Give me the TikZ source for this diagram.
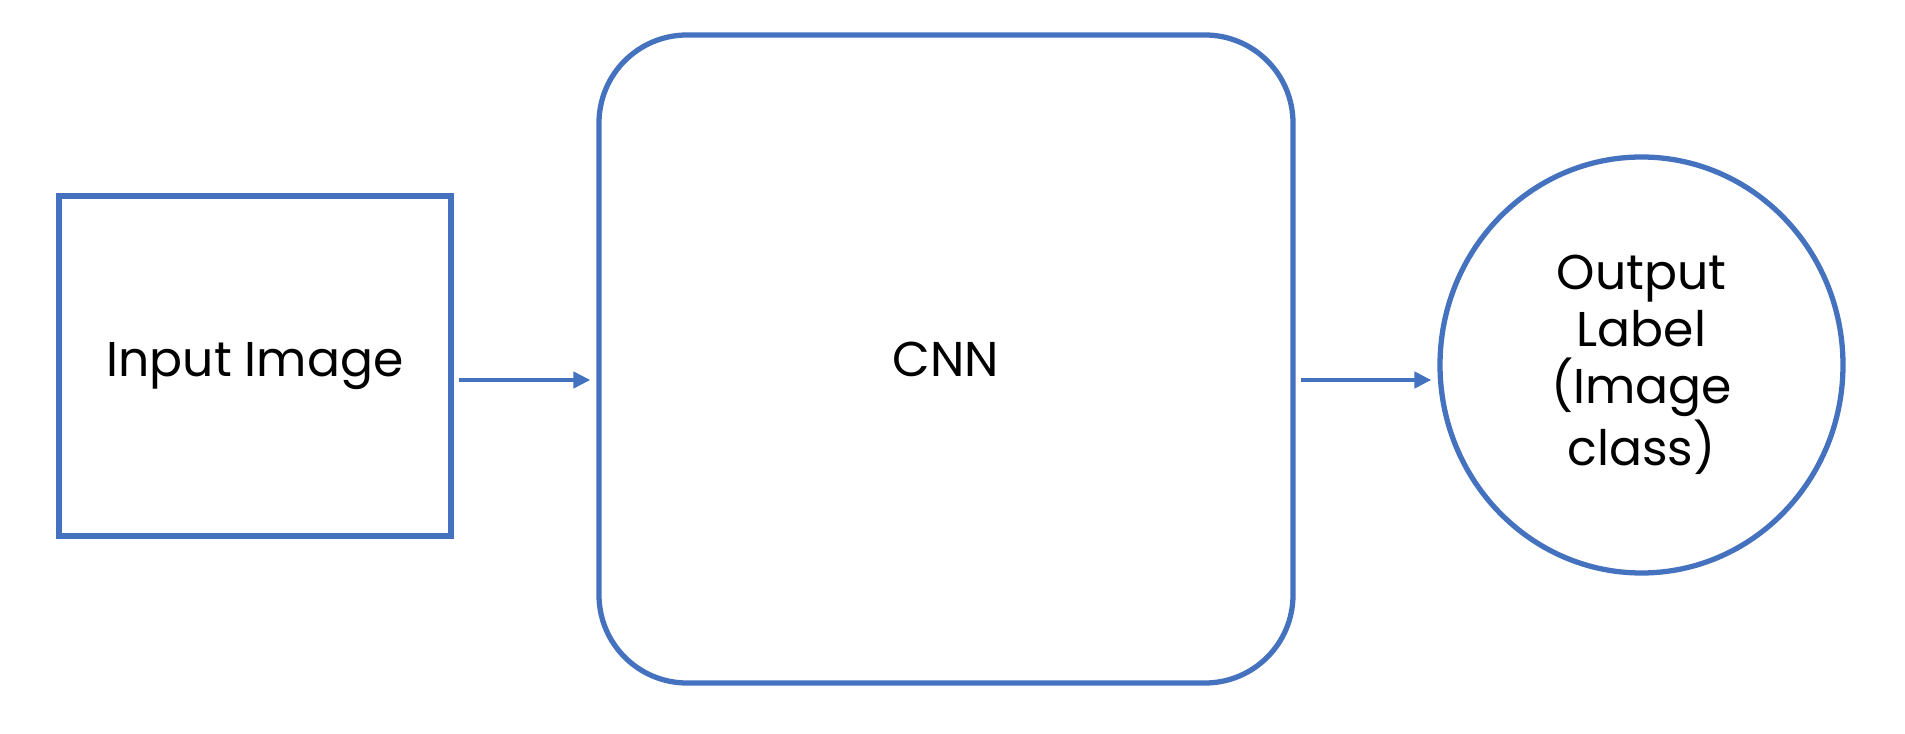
\documentclass[tikz,border=0pt]{standalone}
\usepackage{fontspec}
\setmainfont{Poppins}
\usetikzlibrary{arrows.meta, positioning, shapes.geometric}

\definecolor{boxblue}{RGB}{68,114,190}

\begin{document}
\begin{tikzpicture}[
    >={Triangle[length=0.17cm, width=0.16cm]}, % Set default arrow tip style
    every node/.style={font=\fontsize{13.9}{16.2}\selectfont, text=black}, % Style for texts
    box/.style={draw=boxblue, line width=1.5pt, rectangle, minimum width=3.92cm, minimum height=3.40cm}, % Style for input box
    cnn_box/.style={draw=boxblue, line width=1.5pt, rectangle, rounded corners=0.88cm, minimum width=6.94cm, minimum height=6.48cm}, % Style for network box
    out_circle/.style={draw=boxblue, line width=1.5pt, ellipse, minimum width=4.03cm, minimum height=4.16cm, align=center}, % Style for output
    flow/.style={->, draw=boxblue, fill=boxblue, line width=1.3pt, shorten <=0.05cm, shorten >=0.06cm} % Style for arrows
]

    % Fix the page size
    \useasboundingbox (0,0) rectangle (19.05,7.33);

    % --- Blocks ---
    \node[box] (input) at (2.55, 3.67) {Input Image};
    \node[cnn_box] (cnn) at (9.46, 3.74) {CNN};
    \node[out_circle] (output) at (16.415, 3.68) {Output\\Label\\(Image\\class)};

    % --- Arrows ---
    \draw[flow] ([yshift=-0.14cm]input.east) -- ([yshift=-0.14cm]input.east -| cnn.west);
    \draw[flow] ([yshift=-0.21cm]cnn.east) -- ([yshift=-0.21cm]cnn.east -| output.west);

\end{tikzpicture}
\end{document}
